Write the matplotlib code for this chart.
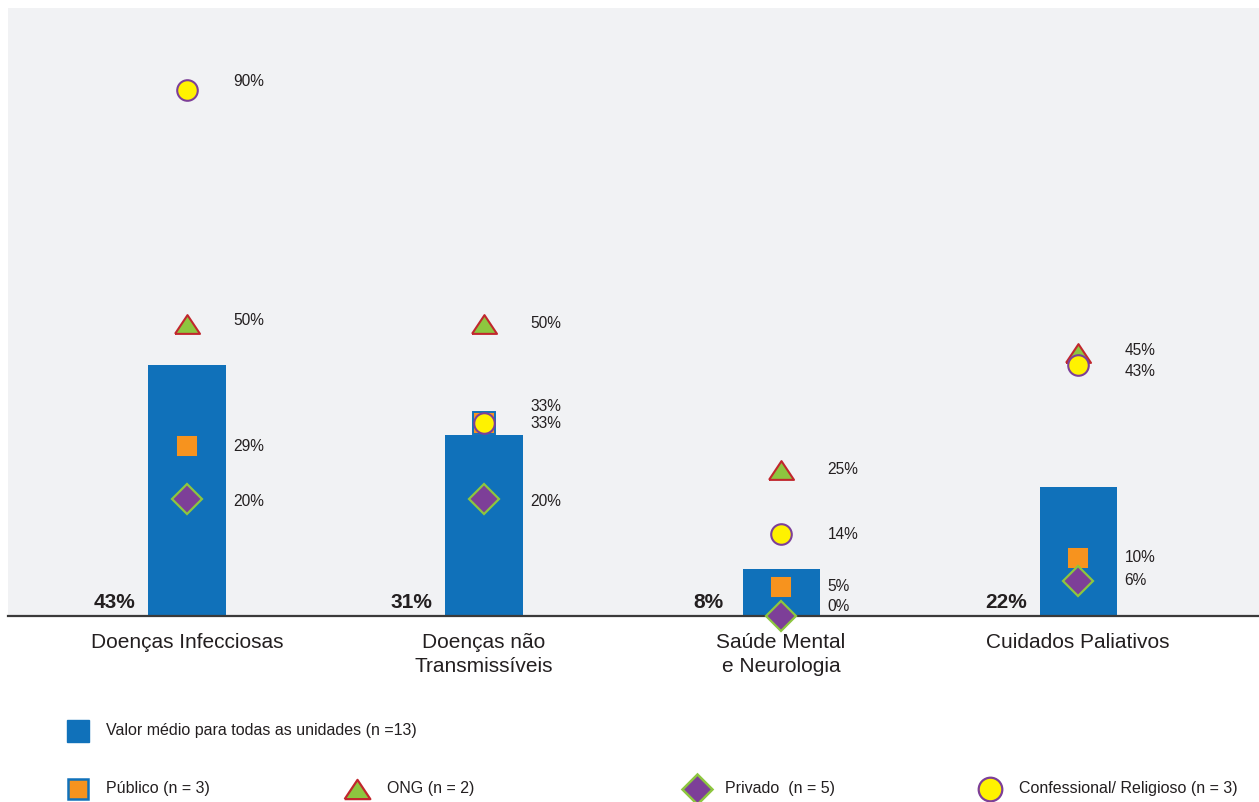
import matplotlib
matplotlib.use("Agg")
import matplotlib.pyplot as plt

plt.rcParams['font.family'] = ['Liberation Sans', 'DejaVu Sans']

categories = ["Doenças Infecciosas", "Doenças não\nTransmissíveis",
              "Saúde Mental\ne Neurologia", "Cuidados Paliativos"]
media = [43, 31, 8, 22]
publico = [29, 33, 5, 10]
ong = [50, 50, 25, 45]
privado = [20, 20, 0, 6]
confessional = [90, 33, 14, 43]

legend_labels = ["Valor médio para todas as unidades (n =13)", "Público (n = 3)",
                 "ONG (n = 2)", "Privado  (n = 5)", "Confessional/ Religioso (n = 3)"]

BLUE = "#1071BA"
ORANGE = "#F7931E"
GREEN = "#8DC63F"
RED = "#C1272D"
PURPLE = "#7D3F98"
YELLOW = "#FFF200"
BG = "#F1F2F4"
TXT = "#231F20"

W, H = 1259, 802
fig = plt.figure(figsize=(W / 100, H / 100), dpi=100)
fig.patch.set_facecolor("white")
ax = fig.add_axes([8 / W, (H - 616) / H, (W - 8) / W, (616 - 8) / H])
ax.set_facecolor(BG)

x = list(range(len(categories)))
ax.bar(x, media, width=0.26, color=BLUE, zorder=2)

tri = [(-1, -0.75), (1, -0.75), (0, 0.75), (-1, -0.75)]
styles = {
    "pub": dict(marker="s", markersize=15.5, markerfacecolor=ORANGE, markeredgecolor=BLUE, markeredgewidth=1.4),
    "ong": dict(marker=tri, markersize=18, markerfacecolor=GREEN, markeredgecolor=RED, markeredgewidth=1.5),
    "priv": dict(marker="D", markersize=15.5, markerfacecolor=PURPLE, markeredgecolor=GREEN, markeredgewidth=1.6),
    "conf": dict(marker="o", markersize=14.8, markerfacecolor=YELLOW, markeredgecolor=PURPLE, markeredgewidth=1.5),
}
series = [("pub", publico), ("ong", ong), ("priv", privado), ("conf", confessional)]
for z, (key, vals) in enumerate(series):
    ax.plot(x, vals, linestyle="none", zorder=3 + z, clip_on=False, **styles[key])

# label vertical offsets (points) for crowded labels
offsets = {("conf", 0): 6, ("pub", 1): 12, ("conf", 1): 0, ("priv", 2): 7,
           ("ong", 3): 2, ("conf", 3): -5, ("ong", 0): 2, ("priv", 0): -2, ("priv", 1): -2}
for key, vals in series:
    for i, v in enumerate(vals):
        dy = offsets.get((key, i), 0)
        ax.annotate(f"{v}%", (i, v), xytext=(33.5, dy), textcoords="offset points",
                    ha="left", va="center", fontsize=11.2, color=TXT, zorder=10,
                    annotation_clip=False)

for i, v in enumerate(media):
    ax.annotate(f"{v}%", (i, 0), xytext=(-52, 5.5), textcoords="offset points",
                ha="center", va="baseline", fontsize=15, fontweight="bold", color=TXT)

ax.set_xlim(-0.603, 3.609)
ax.set_ylim(0, 104)
ax.set_yticks([])
ax.set_xticks(x)
ax.set_xticklabels(categories, fontsize=15, color=TXT, linespacing=1.37)
ax.tick_params(axis="x", length=0, pad=12)
for s in ["top", "left", "right"]:
    ax.spines[s].set_visible(False)
ax.spines["bottom"].set_color("#3a3a3a")
ax.spines["bottom"].set_linewidth(1.6)
ax.spines["bottom"].set_zorder(2.5)

# legend in pixel coordinates
lg = fig.add_axes([0, 0, 1, 1], facecolor="none")
lg.set_xlim(0, W)
lg.set_ylim(H, 0)
lg.axis("off")
lg.plot([78], [731], marker="s", markersize=16.5, markerfacecolor=BLUE, markeredgecolor=BLUE, linestyle="none")
lg.plot([78], [789], marker="s", markersize=15, markerfacecolor=ORANGE, markeredgecolor=BLUE, markeredgewidth=1.8, linestyle="none")
lg.plot([357], [789], linestyle="none", marker=tri, markersize=18.5, markerfacecolor=GREEN, markeredgecolor=RED, markeredgewidth=1.6)
lg.plot([697], [789], linestyle="none", marker="D", markersize=15.5, markerfacecolor=PURPLE, markeredgecolor=GREEN, markeredgewidth=1.8)
lg.plot([990], [789], linestyle="none", marker="o", markersize=17, markerfacecolor=YELLOW, markeredgecolor=PURPLE, markeredgewidth=1.6)
for (tx, ty), lab in zip([(106, 731), (106, 789), (387, 789), (725, 789), (1019, 789)], legend_labels):
    lg.text(tx, ty, lab, ha="left", va="center", fontsize=11.5, color=TXT)

fig.savefig("out.png", dpi=100, facecolor="white")
